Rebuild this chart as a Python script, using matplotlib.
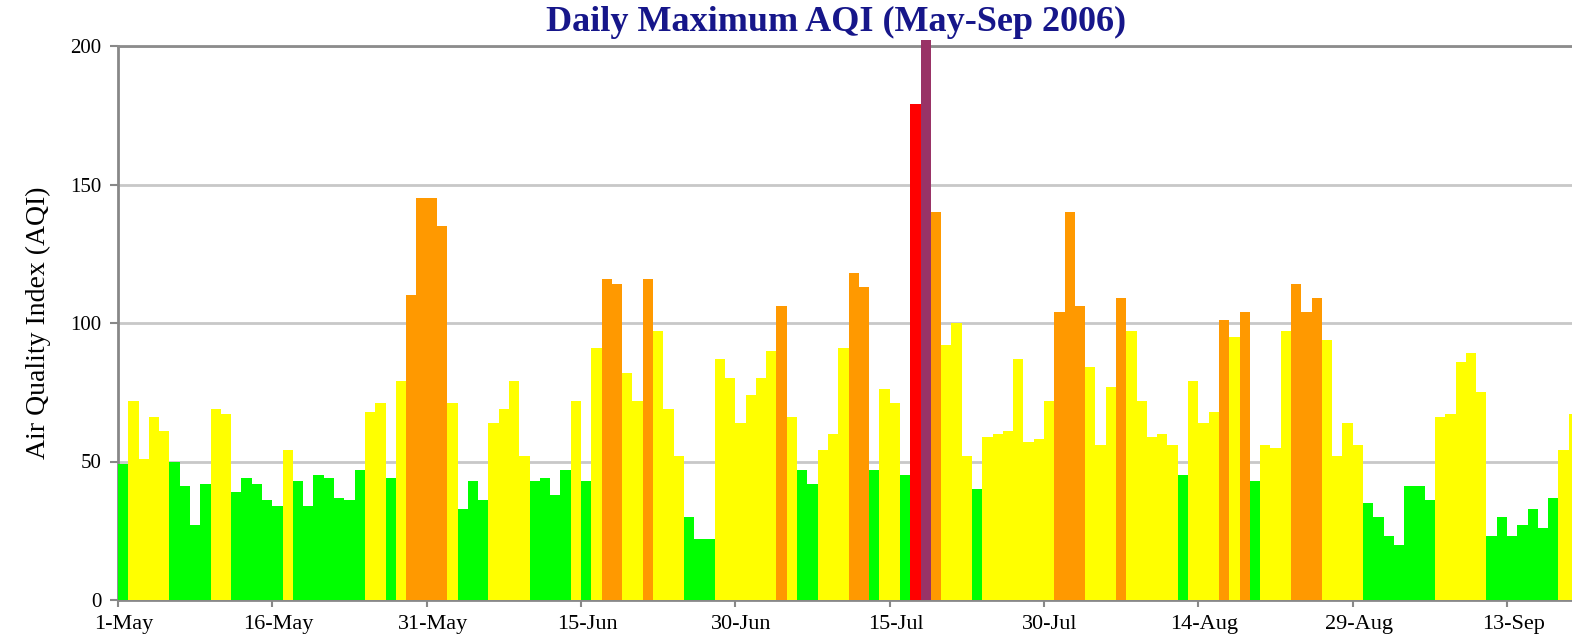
import matplotlib
matplotlib.use("Agg")
import matplotlib.pyplot as plt
import numpy as np
import pandas as pd

START = "2006-05-01"

# daily maximum AQI, 1-May onwards (last bar is cut by the right edge)
AQI = [
    49, 72, 51, 66, 61, 50, 41, 27, 42, 69, 67, 39, 44, 42, 36, 34,
    54, 43, 34, 45, 44, 37, 36, 47, 68, 71, 44, 79,
    110, 145, 145, 135, 71, 33, 43, 36, 64, 69, 79, 52, 43, 44, 38, 47,
    72, 43, 91, 116, 114, 82, 72, 116, 97, 69, 52, 30, 22, 22,
    87, 80, 64, 74, 80, 90, 106, 66, 47, 42, 54, 60, 91, 118, 113, 47,
    76, 71, 45, 179, 202, 140, 92, 100, 52, 40,
    59, 60, 61, 87, 57, 58, 72, 104, 140, 106, 84, 56, 77, 109, 97, 72,
    59, 60, 56, 45, 79, 64, 68, 101, 95, 104, 43, 56,
    55, 97, 114, 104, 109, 94, 52, 64, 56, 35, 30, 23, 20, 41, 41, 36,
    66, 67, 86, 89, 75, 23, 30, 23, 27, 33, 26, 37, 54, 67,
]

# AQI category limits and their colours
BREAKS = [50, 100, 150, 200]
COLORS = ["#00ff00", "#ffff00", "#ff9900", "#ff0000", "#993366"]
YTICKS = [0, 50, 100, 150, 200]
LABEL_STEP = 15

SERIF = ["Liberation Serif", "DejaVu Serif"]


def main():
    n = len(AQI)
    days = pd.date_range(START, periods=n, freq="D")
    cols = [COLORS[np.searchsorted(BREAKS, v)] for v in AQI]

    fig = plt.figure(figsize=(15.72, 6.41), dpi=100)
    fig.patch.set_facecolor("white")
    ax = fig.add_axes([118 / 1572, 41 / 641, 1 - 118 / 1572, 554 / 641])

    ax.bar(np.arange(n), AQI, width=1.0, align="edge", color=cols,
           linewidth=0, zorder=3, clip_on=False)

    ax.set_xlim(0, (1572 - 118) / 10.289)
    ax.set_ylim(0, 200)

    # horizontal grid
    ax.set_yticks(YTICKS)
    ax.set_yticklabels([str(t) for t in YTICKS], fontfamily=SERIF, fontsize=15)
    ax.yaxis.grid(True, color="#c8c8c8", linewidth=2, zorder=0)
    ax.set_axisbelow(True)

    # ticks between categories, labels centred on the day
    pos = np.arange(0, n, LABEL_STEP)
    ax.set_xticks(pos)
    ax.set_xticklabels([])
    ax.set_xticks(pos + 0.6, minor=True)
    ax.set_xticklabels([f"{d.day}-{d.strftime('%b')}" for d in days[pos]],
                       minor=True, fontfamily=SERIF, fontsize=16)
    ax.tick_params(axis="x", which="minor", length=0, pad=11)
    ax.tick_params(axis="x", which="major", length=5, width=1.5, color="#888888")
    ax.tick_params(axis="y", length=6, width=1.5, color="#888888", pad=6)

    for s in ("left", "bottom"):
        ax.spines[s].set_color("#888888")
        ax.spines[s].set_linewidth(2)
    ax.spines["top"].set_color("#8c8c8c")
    ax.spines["top"].set_linewidth(2)
    ax.spines["right"].set_visible(False)

    ax.set_ylabel("Air Quality Index (AQI)", fontfamily=SERIF, fontsize=20,
                  labelpad=14)

    fig.text(836 / 1572, 1 - 22 / 641, "Daily Maximum AQI (May-Sep 2006)",
             ha="center", va="center", fontfamily=SERIF, fontsize=26,
             fontweight="bold", color="#16168a")

    fig.savefig("out.png", dpi=100, facecolor="white")


if __name__ == "__main__":
    main()
